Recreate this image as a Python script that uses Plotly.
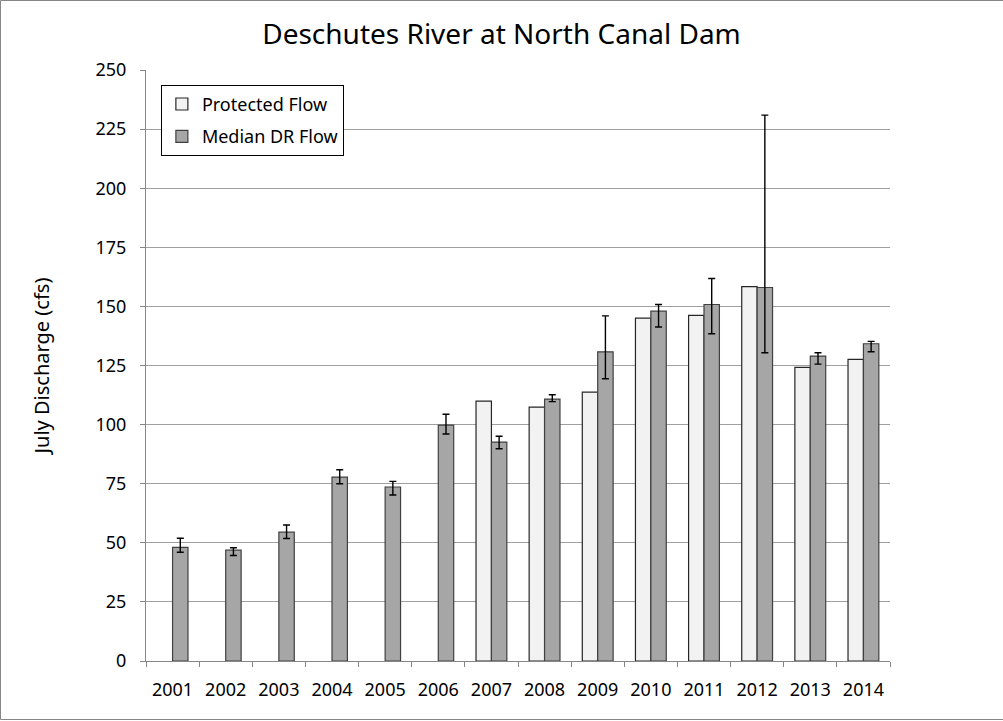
import plotly.graph_objects as go

years = ["2001", "2002", "2003", "2004", "2005", "2006", "2007",
         "2008", "2009", "2010", "2011", "2012", "2013", "2014"]
protected = [None, None, None, None, None, None, 109.9,
             107.4, 113.7, 145.0, 146.2, 158.4, 124.2, 127.6]
median = [48.1, 46.9, 54.5, 77.8, 73.6, 99.8, 92.6,
          110.8, 130.8, 148.0, 150.8, 158.0, 129.0, 134.2]
err_hi = [51.9, 47.9, 57.5, 80.9, 76.0, 104.4, 95.1,
          112.6, 146.0, 150.8, 161.8, 230.9, 130.4, 135.2]
err_lo = [46.0, 44.6, 51.8, 75.0, 70.2, 96.0, 89.8,
          109.7, 119.4, 141.3, 138.4, 130.4, 125.6, 130.8]

plus = [h - m for h, m in zip(err_hi, median)]
minus = [m - l for l, m in zip(err_lo, median)]

FONT = "Noto Sans"

fig = go.Figure()
fig.add_trace(go.Bar(
    x=years, y=protected, name="Protected Flow", legendgroup="a",
    marker=dict(color="#F2F2F2", line=dict(color="#262626", width=1.2)),
))
fig.add_trace(go.Bar(
    x=years, y=median, name="Median DR Flow", legendgroup="b",
    marker=dict(color="#A6A6A6", line=dict(color="#404040", width=1.2)),
    error_y=dict(type="data", symmetric=False, array=plus, arrayminus=minus,
                 color="#000000", thickness=1.4, width=3.5),
))

fig.update_layout(
    width=1003, height=721,
    paper_bgcolor="white", plot_bgcolor="white",
    margin=dict(l=146, r=113, t=70, b=60),
    barmode="group", bargap=0.42, bargroupgap=0,
    title=dict(text="Deschutes River at North Canal Dam", x=0.5, xanchor="center",
               y=1 - 34 / 721, yanchor="middle",
               font=dict(family=FONT, size=28, color="#000000")),
    font=dict(family=FONT, size=18, color="#000000"),
    legend=dict(x=0.02, y=0.975, xanchor="left", yanchor="top",
                bordercolor="#000000", borderwidth=1, bgcolor="white",
                traceorder="grouped", tracegroupgap=6,
                font=dict(family=FONT, size=18)),
    showlegend=True,
)
fig.update_xaxes(
    type="category", showline=True, linecolor="#868686", linewidth=1,
    ticks="outside", tickson="boundaries", ticklen=5, tickcolor="#868686",
    showgrid=False, tickfont=dict(family=FONT, size=18), ticklabelstandoff=12,
)
fig.update_yaxes(
    range=[0, 250], dtick=25, tick0=0, showline=True, linecolor="#868686",
    linewidth=1, ticks="outside", ticklen=5, tickcolor="#868686",
    showgrid=True, gridcolor="#A0A0A0", gridwidth=1, zeroline=False,
    tickfont=dict(family=FONT, size=18), ticklabelstandoff=10,
    title=dict(text="July Discharge (cfs)", font=dict(family=FONT, size=20), standoff=40),
)
fig.add_shape(type="rect", xref="paper", yref="paper",
              x0=-145.5 / 744, x1=(744 + 120) / 744, y0=-58.5 / 591, y1=(591 + 69.5) / 591,
              line=dict(color="#868686", width=1), fillcolor="rgba(0,0,0,0)",
              layer="below")

fig.write_html(
    "out.html",
    config={"displayModeBar": False},
    post_script="document.body.style.margin='0';document.body.style.overflow='hidden';",
)
